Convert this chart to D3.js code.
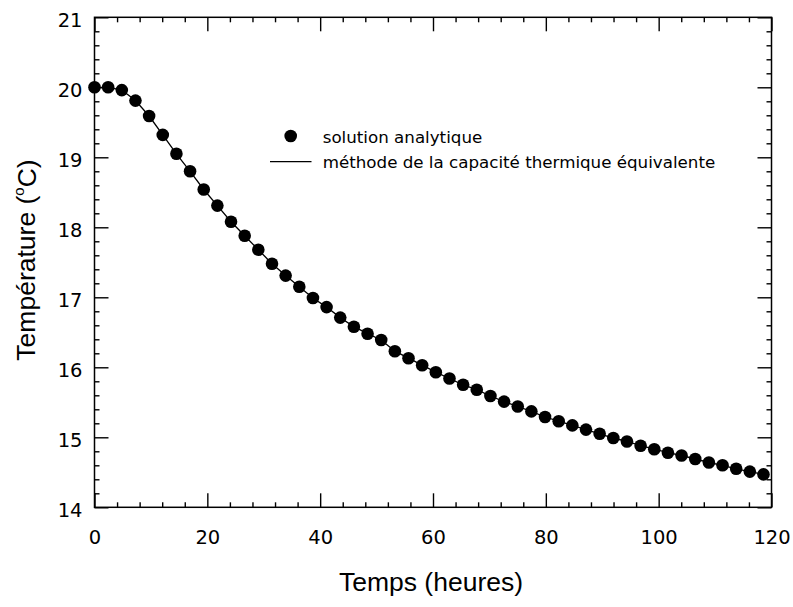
<!DOCTYPE html>
<html>
<head>
<meta charset="utf-8">
<script src="https://cdn.jsdelivr.net/npm/d3@7"></script>
<style>
  body { margin: 0; background: #fff; }
  svg { display: block; font-family: "DejaVu Sans", Verdana, sans-serif; }
  .axis-title { font-family: "Liberation Sans", Arial, Helvetica, sans-serif; }
</style>
</head>
<body>
<svg id="chart" width="793" height="607"></svg>
<script>
// Time grid (hours) and temperature (°C)
const timeHours = [
  0.00, 2.42, 4.84, 7.26, 9.68, 12.10, 14.52, 16.94, 19.36, 21.78,
  24.20, 26.62, 29.04, 31.46, 33.88, 36.30, 38.72, 41.14, 43.56, 45.98,
  48.40, 50.82, 53.24, 55.66, 58.08, 60.50, 62.92, 65.34, 67.76, 70.18,
  72.60, 75.02, 77.44, 79.86, 82.28, 84.70, 87.12, 89.54, 91.96, 94.38,
  96.80, 99.22, 101.64, 104.06, 106.48, 108.90, 111.32, 113.74, 116.16, 118.58
];
const analyticTemp = [
  20.00, 20.00, 19.96, 19.81, 19.59, 19.32, 19.05, 18.80, 18.54, 18.31,
  18.08, 17.88, 17.68, 17.48, 17.31, 17.15, 16.99, 16.86, 16.71, 16.58,
  16.48, 16.39, 16.23, 16.13, 16.03, 15.93, 15.84, 15.75, 15.68, 15.59,
  15.51, 15.44, 15.37, 15.29, 15.23, 15.17, 15.11, 15.05, 14.99, 14.94,
  14.88, 14.83, 14.78, 14.74, 14.69, 14.64, 14.60, 14.55, 14.51, 14.47
];
const capacityTemp = [
  20.00, 20.00, 19.96, 19.81, 19.59, 19.32, 19.05, 18.80, 18.54, 18.31,
  18.08, 17.88, 17.68, 17.48, 17.31, 17.15, 16.99, 16.86, 16.71, 16.58,
  16.48, 16.39, 16.23, 16.13, 16.03, 15.93, 15.84, 15.75, 15.68, 15.59,
  15.51, 15.44, 15.37, 15.29, 15.23, 15.17, 15.11, 15.05, 14.99, 14.94,
  14.88, 14.83, 14.78, 14.74, 14.69, 14.64, 14.60, 14.55, 14.51, 14.47
];
const xTicks = [0, 20, 40, 60, 80, 100, 120];
const yTicks = [14, 15, 16, 17, 18, 19, 20, 21];
const legendLabels = ["solution analytique", "méthode de la capacité thermique équivalente"];

const svg = d3.select("#chart");
const plotLeft = 94.5, plotRight = 771.5, plotTop = 17.3, plotBottom = 507.3;

const x = d3.scaleLinear().domain([0, 120]).range([plotLeft, plotRight]);
const y = d3.scaleLinear().domain([14, 21]).range([plotBottom, plotTop]);

const xMinor = d3.range(0, 121, 4).filter(v => v % 20 !== 0);
const yMinor = d3.range(140, 211, 2).map(v => v / 10).filter(v => Math.abs(v - Math.round(v)) > 1e-6);

const majorLen = 14, minorLen = 5;

function styleAxis(g) {
  g.attr("font-family", null);
  g.select(".domain").remove();
  g.selectAll(".tick line").attr("stroke", "#000").attr("stroke-width", 1.4);
  g.selectAll(".tick text").attr("fill", "#000").attr("font-size", 19.5);
}

// Bottom axis: labels + inward ticks
svg.append("g").attr("transform", `translate(0,${plotBottom})`)
  .call(d3.axisBottom(x).tickValues(xTicks).tickSize(-majorLen).tickPadding(23).tickFormat(d3.format("d")))
  .call(styleAxis);
svg.append("g").attr("transform", `translate(0,${plotBottom})`)
  .call(d3.axisBottom(x).tickValues(xMinor).tickSize(-minorLen).tickFormat(""))
  .call(styleAxis);
// Top axis: ticks only
svg.append("g").attr("transform", `translate(0,${plotTop})`)
  .call(d3.axisTop(x).tickValues(xTicks).tickSize(-majorLen).tickFormat(""))
  .call(styleAxis);
svg.append("g").attr("transform", `translate(0,${plotTop})`)
  .call(d3.axisTop(x).tickValues(xMinor).tickSize(-minorLen).tickFormat(""))
  .call(styleAxis);
// Left axis: labels + inward ticks
const gLeft = svg.append("g").attr("transform", `translate(${plotLeft},0)`)
  .call(d3.axisLeft(y).tickValues(yTicks).tickSize(-majorLen).tickPadding(12).tickFormat(d3.format("d")))
  .call(styleAxis);
gLeft.selectAll(".tick text").attr("dy", "0.45em");
svg.append("g").attr("transform", `translate(${plotLeft},0)`)
  .call(d3.axisLeft(y).tickValues(yMinor).tickSize(-minorLen).tickFormat(""))
  .call(styleAxis);
// Right axis: ticks only
svg.append("g").attr("transform", `translate(${plotRight},0)`)
  .call(d3.axisRight(y).tickValues(yTicks).tickSize(-majorLen).tickFormat(""))
  .call(styleAxis);
svg.append("g").attr("transform", `translate(${plotRight},0)`)
  .call(d3.axisRight(y).tickValues(yMinor).tickSize(-minorLen).tickFormat(""))
  .call(styleAxis);

// Frame
svg.append("rect")
  .attr("x", plotLeft).attr("y", plotTop)
  .attr("width", plotRight - plotLeft).attr("height", plotBottom - plotTop)
  .attr("fill", "none").attr("stroke", "#000").attr("stroke-width", 1.5);

const plot = svg.append("g");

// Numerical solution (line)
const lineData = timeHours.map((t, i) => [t, capacityTemp[i]]);
plot.append("path")
  .datum(lineData)
  .attr("fill", "none")
  .attr("stroke", "#000")
  .attr("stroke-width", 1.3)
  .attr("d", d3.line().x(d => x(d[0])).y(d => y(d[1])));

// Analytical solution (points)
plot.selectAll("circle.pt")
  .data(timeHours.map((t, i) => [t, analyticTemp[i]]))
  .join("circle")
  .attr("class", "pt")
  .attr("cx", d => x(d[0]))
  .attr("cy", d => y(d[1]))
  .attr("r", 6.3)
  .attr("fill", "#000");

// Legend
const legend = svg.append("g");
legend.append("circle").attr("cx", 290.7).attr("cy", 136).attr("r", 6.3).attr("fill", "#000");
legend.append("text").attr("x", 322.7).attr("y", 142.5).attr("font-size", 16.7)
  .attr("fill", "#000").text(legendLabels[0]);
legend.append("line").attr("x1", 270).attr("x2", 311.5).attr("y1", 161.7).attr("y2", 161.7)
  .attr("stroke", "#000").attr("stroke-width", 1.3);
legend.append("text").attr("x", 322.7).attr("y", 168).attr("font-size", 16.7)
  .attr("fill", "#000").text(legendLabels[1]);

// Axis titles
svg.append("text")
  .attr("class", "axis-title")
  .attr("x", 431).attr("y", 591)
  .attr("text-anchor", "middle").attr("font-size", 26.5).attr("fill", "#000")
  .text("Temps (heures)");

const yTitle = svg.append("text")
  .attr("class", "axis-title")
  .attr("transform", "translate(35,260) rotate(-90)")
  .attr("text-anchor", "middle").attr("font-size", 26.5).attr("fill", "#000");
yTitle.append("tspan").text("Température (");
yTitle.append("tspan").attr("font-size", 15).attr("dy", "-0.75em").text("o");
yTitle.append("tspan").attr("dy", "0.45em").text("C)");
</script>
</body>
</html>
